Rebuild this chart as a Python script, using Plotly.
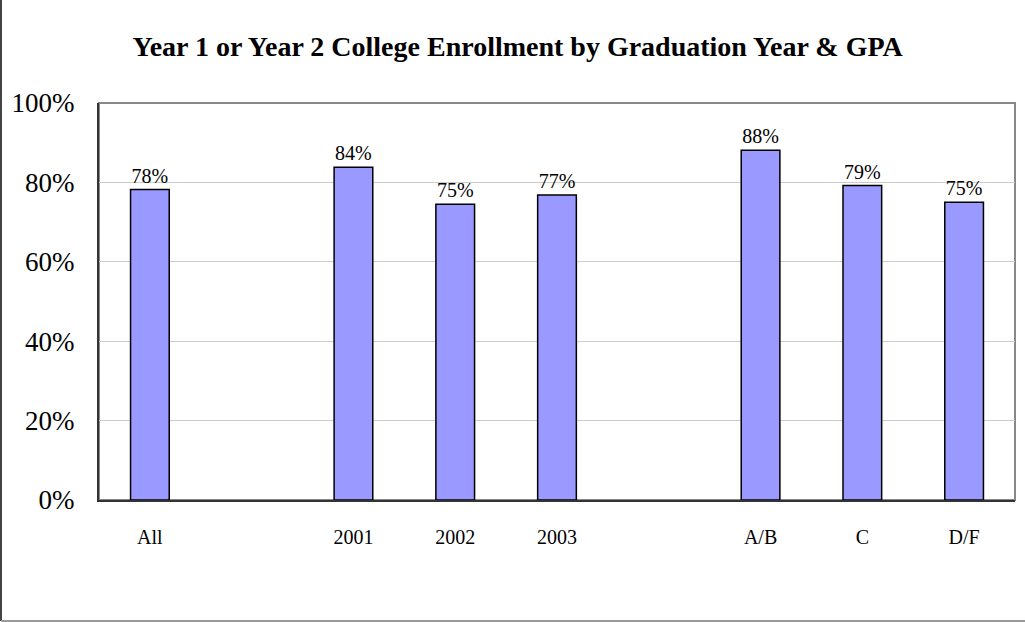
import plotly.graph_objects as go

categories = ["All", " ", "2001", "2002", "2003", "  ", "A/B", "C", "D/F"]
values = [0.782, None, 0.838, 0.745, 0.768, None, 0.881, 0.792, 0.750]
labels = ["78%", "", "84%", "75%", "77%", "", "88%", "79%", "75%"]
y_ticks = [0, 0.2, 0.4, 0.6, 0.8, 1.0]
y_tick_text = ["0%", "20%", "40%", "60%", "80%", "100%"]

FONT = "Liberation Serif"

fig = go.Figure()
fig.add_trace(go.Bar(
    x=categories, y=values, text=labels, textposition="outside",
    textfont=dict(family=FONT, size=20, color="black"),
    marker=dict(color="#9999ff", line=dict(color="black", width=1.5)),
    width=0.38, cliponaxis=False,
))

fig.update_layout(
    width=1025, height=622,
    margin=dict(l=99, r=10, t=103, b=122),
    paper_bgcolor="white", plot_bgcolor="white",
    showlegend=False,
    title=dict(text="Year 1 or Year 2 College Enrollment by Graduation Year &amp; GPA",
               x=0.505, xanchor="center", y=0.925, yanchor="middle",
               font=dict(family=FONT, size=28, color="black", weight="bold")),
    font=dict(family=FONT, color="black"),
)
fig.update_xaxes(
    type="category", categoryorder="array", categoryarray=categories,
    showline=True, linecolor="#333333", linewidth=2,
    ticks="outside", ticklen=18, tickcolor="rgba(0,0,0,0)",
    tickfont=dict(family=FONT, size=20, color="black"),
    showgrid=False,
)
fig.update_yaxes(
    range=[0, 1.0], tickvals=y_ticks, ticktext=y_tick_text,
    showline=True, linecolor="#333333", linewidth=2,
    ticks="outside", ticklen=17, tickcolor="rgba(0,0,0,0)",
    tickfont=dict(family=FONT, size=27, color="black"),
    showgrid=True, gridcolor="#cccccc", gridwidth=1, zeroline=False,
)
# gray frame around plot area (top/right)
fig.add_shape(type="rect", xref="x domain", yref="y domain", x0=0, x1=1, y0=0, y1=1,
              line=dict(color="#888888", width=2), layer="below")
# outer chart border (left and bottom edges visible)
fig.add_shape(type="line", xref="paper", yref="paper",
              x0=-98/916, x1=-98/916, y0=-121/397, y1=1 + 103/397,
              line=dict(color="#444444", width=2))
fig.add_shape(type="line", xref="paper", yref="paper",
              x0=-98/916, x1=1 + 10/916, y0=-121/397, y1=-121/397,
              line=dict(color="#999999", width=2))

fig.write_html("out.html", config={"displayModeBar": False},
               post_script="document.body.style.margin='0';")
